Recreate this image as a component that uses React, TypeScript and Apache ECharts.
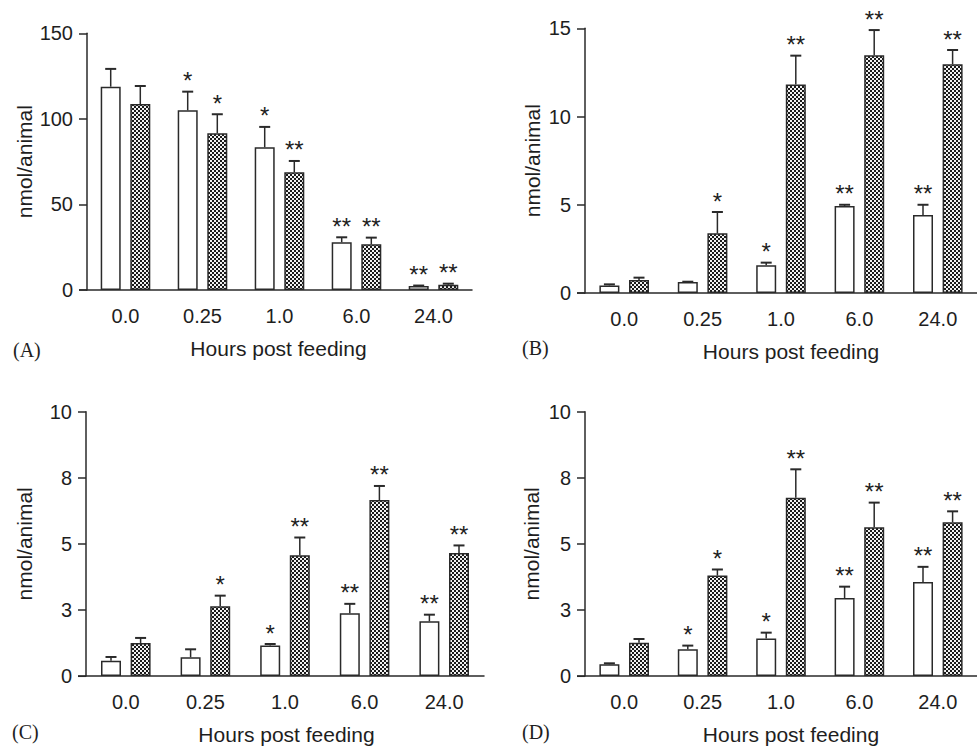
import React, { useEffect, useRef } from "react";
import * as echarts from "echarts";

const categories = ["0.0", "0.25", "1.0", "6.0", "24.0"];

// Panel A
const aWhite = [118.8, 105.0, 83.4, 27.9, 2.3];
const aWhiteErr = [10.4, 10.9, 11.9, 2.9, 0.3];
const aCheck = [108.7, 91.6, 68.8, 26.7, 3.1];
const aCheckErr = [10.5, 11.1, 6.6, 3.9, 0.6];
const aWhiteStars = ["", "*", "*", "**", "**"];
const aCheckStars = ["", "*", "**", "**", "**"];

// Panel B
const bWhite = [0.43, 0.62, 1.57, 4.93, 4.42];
const bWhiteErr = [0.06, 0.02, 0.15, 0.07, 0.58];
const bCheck = [0.74, 3.38, 11.81, 13.47, 12.96];
const bCheckErr = [0.13, 1.21, 1.64, 1.43, 0.81];
const bWhiteStars = ["", "", "*", "**", "**"];
const bCheckStars = ["", "*", "**", "**", "**"];

// Panel C
const cWhite = [0.58, 0.71, 1.15, 2.37, 2.07];
const cWhiteErr = [0.14, 0.3, 0.06, 0.36, 0.25];
const cCheck = [1.25, 2.64, 4.57, 6.66, 4.65];
const cCheckErr = [0.19, 0.4, 0.67, 0.53, 0.29];
const cWhiteStars = ["", "", "*", "**", "**"];
const cCheckStars = ["", "*", "**", "**", "**"];

// Panel D
const dWhite = [0.44, 1.01, 1.42, 2.95, 3.56];
const dWhiteErr = [0.04, 0.14, 0.22, 0.43, 0.57];
const dCheck = [1.26, 3.8, 6.74, 5.63, 5.82];
const dCheckErr = [0.14, 0.23, 1.08, 0.93, 0.41];
const dWhiteStars = ["", "*", "*", "**", "**"];
const dCheckStars = ["", "*", "**", "**", "**"];

const yMaxes = [150, 15, 10, 10];
const yIntervals = [50, 5, 2.5, 2.5];
const panelLabels = ["(A)", "(B)", "(C)", "(D)"];

const INK = "#2a2a2a";
const TEXT = "#1e1e1e";
const BAR_W = 20;
const BAR_GAP = 0.48;

export default function App() {
  const ref = useRef<HTMLDivElement>(null);
  useEffect(() => {
    if (!ref.current) return;
    const chart = echarts.init(ref.current, null, { renderer: "svg" });

    const cv = document.createElement("canvas");
    cv.width = 4;
    cv.height = 4;
    const ctx = cv.getContext("2d")!;
    ctx.fillStyle = "#f2f2f2";
    ctx.fillRect(0, 0, 4, 4);
    ctx.fillStyle = "#1a1a1a";
    ctx.fillRect(0, 0, 2, 2);
    ctx.fillRect(2, 2, 2, 2);
    const pattern: any = {
      image: cv.toDataURL(),
      repeat: "repeat",
      imageWidth: 4,
      imageHeight: 4,
    };

    const grids = [
      { left: 87, top: 33.3, width: 385, height: 256.7 },
      { left: 585, top: 28.3, width: 396.5, height: 264.7 },
      { left: 86, top: 411.7, width: 398, height: 264.6 },
      { left: 585, top: 411.7, width: 396.5, height: 264.6 },
    ];
    const yNameGaps = [52, 42, 51, 43];
    const labelPos = [
      [13, 350],
      [522, 348],
      [12, 731.7],
      [522, 731.7],
    ];
    const xNameShift = [-2, 20, 3, 20];

    const panels = [
      { w: aWhite, we: aWhiteErr, c: aCheck, ce: aCheckErr, ws: aWhiteStars, cs: aCheckStars },
      { w: bWhite, we: bWhiteErr, c: bCheck, ce: bCheckErr, ws: bWhiteStars, cs: bCheckStars },
      { w: cWhite, we: cWhiteErr, c: cCheck, ce: cCheckErr, ws: cWhiteStars, cs: cCheckStars },
      { w: dWhite, we: dWhiteErr, c: dCheck, ce: dCheckErr, ws: dWhiteStars, cs: dCheckStars },
    ];

    const offset = (BAR_W * (1 + BAR_GAP)) / 2;

    const errSeries = (i: number, vals: number[], errs: number[], stars: string[], dx: number) => ({
      type: "custom",
      xAxisIndex: i,
      yAxisIndex: i,
      z: 5,
      clip: false,
      data: vals.map((v, k) => [k, v, errs[k]]),
      renderItem: (params: any, api: any) => {
        const ci = api.value(0);
        const v = api.value(1);
        const e = api.value(2);
        const base = api.coord([ci, v]);
        const top = api.coord([ci, v + e]);
        const x = base[0] + dx;
        const star = stars[params.dataIndex];
        const children: any[] = [
          {
            type: "line",
            shape: { x1: x, y1: base[1], x2: x, y2: top[1] },
            style: { stroke: INK, lineWidth: 1.5 },
          },
          {
            type: "line",
            shape: { x1: x - 5.5, y1: top[1], x2: x + 5.5, y2: top[1] },
            style: { stroke: INK, lineWidth: 2 },
          },
        ];
        if (star) {
          children.push({
            type: "text",
            x: x,
            y: top[1] + 1,
            style: {
              text: star,
              fill: TEXT,
              font: '24px "Liberation Sans", Arial, sans-serif',
              textAlign: "center",
              textVerticalAlign: "bottom",
            },
          });
        }
        return { type: "group", children };
      },
    });

    const series: any[] = [];
    panels.forEach((p, i) => {
      series.push({
        type: "bar",
        xAxisIndex: i,
        yAxisIndex: i,
        barWidth: BAR_W,
        barGap: `${BAR_GAP * 100}%`,
        data: p.w,
        itemStyle: { color: "#ffffff", borderColor: INK, borderWidth: 1.5 },
      });
      series.push({
        type: "bar",
        xAxisIndex: i,
        yAxisIndex: i,
        barWidth: BAR_W,
        barGap: `${BAR_GAP * 100}%`,
        data: p.c,
        itemStyle: { color: pattern, borderColor: INK, borderWidth: 1.5 },
      });
      series.push(errSeries(i, p.w, p.we, p.ws, -offset));
      series.push(errSeries(i, p.c, p.ce, p.cs, offset));
    });

    const graphic: any[] = [];
    grids.forEach((g, i) => {
      graphic.push({
        type: "line",
        shape: { x1: g.left - 8, y1: g.top + g.height, x2: g.left, y2: g.top + g.height },
        style: { stroke: INK, lineWidth: 1.5 },
      });
      graphic.push({
        type: "text",
        x: labelPos[i][0],
        y: labelPos[i][1],
        style: {
          text: panelLabels[i],
          fill: TEXT,
          font: '20px "Liberation Serif", "Times New Roman", serif',
          textAlign: "left",
          textVerticalAlign: "middle",
        },
      });
    });

    chart.setOption({
      animation: false,
      backgroundColor: "#ffffff",
      grid: grids.map((g) => ({ ...g, containLabel: false })),
      xAxis: grids.map((g, i) => ({
        type: "category",
        gridIndex: i,
        data: categories,
        name: "Hours post feeding",
        nameLocation: "middle",
        nameGap: 48,
        nameTextStyle: {
          fontSize: 21,
          color: TEXT,
          fontFamily: '"Liberation Sans", Arial, sans-serif',
          padding: xNameShift[i] > 0 ? [0, 0, 0, xNameShift[i]] : [0, -xNameShift[i], 0, 0],
        },
        axisLine: { lineStyle: { color: INK, width: 1.5 } },
        axisTick: { alignWithLabel: true, length: 7, lineStyle: { color: INK, width: 1.5 } },
        axisLabel: {
          fontSize: 20,
          color: TEXT,
          margin: 16,
          fontFamily: '"Liberation Sans", Arial, sans-serif',
        },
        splitLine: { show: false },
      })),
      yAxis: grids.map((g, i) => ({
        type: "value",
        gridIndex: i,
        min: 0,
        max: yMaxes[i],
        interval: yIntervals[i],
        name: "nmol/animal",
        nameLocation: "middle",
        nameGap: yNameGaps[i],
        nameTextStyle: {
          fontSize: 21,
          color: TEXT,
          fontFamily: '"Liberation Sans", Arial, sans-serif',
        },
        axisLine: { show: true, lineStyle: { color: INK, width: 1.5 } },
        axisTick: { show: true, length: 8, lineStyle: { color: INK, width: 1.5 } },
        axisLabel: {
          fontSize: 20,
          color: TEXT,
          margin: 14,
          fontFamily: '"Liberation Sans", Arial, sans-serif',
          formatter: (v: number) => String(Math.round(v)),
        },
        splitLine: { show: false },
      })),
      series,
      graphic,
    });

    return () => chart.dispose();
  }, []);

  return (
    <div
      ref={ref}
      style={{ position: "absolute", left: 0, top: 0, width: 977, height: 746, background: "#fff" }}
    />
  );
}
